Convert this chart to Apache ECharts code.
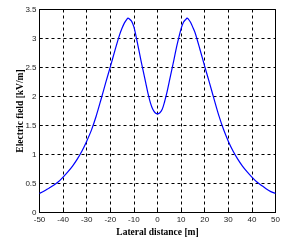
<!DOCTYPE html>
<html>
<head>
<meta charset="utf-8">
<script src="https://cdn.jsdelivr.net/npm/echarts@6/dist/echarts.min.js"></script>
<style>html,body{margin:0;padding:0;background:#fff}#c{width:305px;height:241px}</style>
</head>
<body>
<div id="c"></div>
<script>
var xValues = [-50,-48,-46,-44,-42,-40,-38,-36,-34,-32,-30,-28,-26,-24,-22,-20,-18,-16,-15,-14,-13,-12.5,-12,-11,-10,-9,-8,-7,-6,-5,-4,-3,-2,-1,0,
  1,2,3,4,5,6,7,8,9,10,11,12,12.5,13,14,15,16,18,20,22,24,26,28,30,32,34,36,38,40,42,44,46,48,50];
var yValues = [0.33,0.37,0.42,0.47,0.53,0.61,0.70,0.80,0.92,1.06,1.23,1.42,1.66,1.94,2.23,2.51,2.80,3.07,3.18,3.27,3.33,3.35,3.34,3.30,3.20,3.02,2.82,2.62,2.43,2.24,2.05,1.89,1.78,1.72,1.70,
  1.72,1.78,1.91,2.07,2.26,2.45,2.64,2.84,3.01,3.17,3.28,3.33,3.35,3.34,3.28,3.19,3.09,2.81,2.52,2.24,1.95,1.67,1.43,1.23,1.06,0.92,0.80,0.70,0.61,0.53,0.47,0.41,0.36,0.33];
var xTicks = [-50,-40,-30,-20,-10,0,10,20,30,40,50];
var yTicks = [0,0.5,1,1.5,2,2.5,3,3.5];
var xTitle = 'Lateral distance [m]';
var yTitle = 'Electric field [kV/m]';

var pts = xValues.map(function(x,i){return [x,yValues[i]];});
var chart = echarts.init(document.getElementById('c'), null, {renderer:'canvas'});
var gridLine = {show:true, lineStyle:{color:'#000', width:1, type:[3,3]}};
var labelFont = {color:'#222', fontSize:8, fontFamily:'Liberation Sans, Arial, sans-serif'};
chart.setOption({
  animation:false,
  grid:{left:39.5, right:29.5, top:9.5, bottom:28.5, show:true, borderColor:'#000', borderWidth:1, backgroundColor:'#fff',
    containLabel:false, outerBoundsMode:'none'},
  xAxis:{type:'value', min:-50, max:50, interval:10,
    name:xTitle, nameLocation:'middle', nameGap:15, nameMoveOverlap:false,
    nameTextStyle:{fontFamily:'Liberation Serif, Times New Roman, serif', fontWeight:'bold', fontSize:9.5, color:'#000'},
    axisLine:{show:true, onZero:false, lineStyle:{color:'#000', width:1}},
    axisTick:{show:true, inside:true, length:3, lineStyle:{color:'#000'}},
    axisLabel:Object.assign({margin:3, formatter:function(v){return xTicks.indexOf(v)>=0?String(v):'';}}, labelFont),
    splitLine:gridLine},
  yAxis:{type:'value', min:0, max:3.5, interval:0.5,
    name:yTitle, nameLocation:'middle', nameGap:14, nameRotate:90, nameMoveOverlap:false,
    nameTextStyle:{fontFamily:'Liberation Serif, Times New Roman, serif', fontWeight:'bold', fontSize:9.5, color:'#000'},
    axisLine:{show:true, onZero:false, lineStyle:{color:'#000', width:1}},
    axisTick:{show:true, inside:true, length:3, lineStyle:{color:'#000'}},
    axisLabel:Object.assign({margin:3, formatter:function(v){return yTicks.indexOf(v)>=0?String(v):'';}}, labelFont),
    splitLine:gridLine},
  series:[{type:'line', data:pts, showSymbol:false, smooth:0.3, lineStyle:{color:'#0000ff', width:1.2}}]
});
</script>
</body>
</html>
